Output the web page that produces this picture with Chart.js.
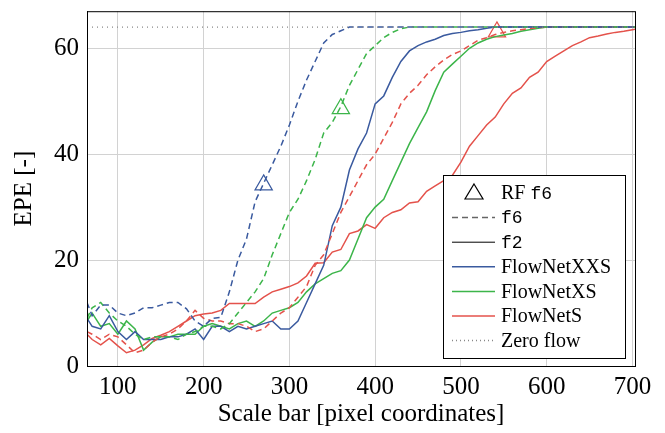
<!DOCTYPE html>
<html>
<head>
<meta charset="utf-8">
<script src="https://cdn.jsdelivr.net/npm/chart.js@4.4.1/dist/chart.umd.min.js"></script>
<style>
  body { margin: 0; background: #fff; }
  .chartBox { width: 665px; height: 433px; }
</style>
</head>
<body>
<div class="chartBox"><canvas id="epeChart"></canvas></div>
<script>
// scale bar size (x) for every sample
const scaleBar = [64, 70, 80, 90, 100, 110, 120, 130, 140, 150, 160, 170, 180, 190, 200,
  210, 220, 230, 240, 250, 260, 270, 280, 290, 300, 310, 320, 330, 340, 350,
  360, 370, 380, 390, 400, 410, 420, 430, 440, 450, 460, 470, 480, 490, 500,
  510, 520, 530, 540, 550, 560, 570, 580, 590, 600, 610, 620, 630, 640, 650,
  660, 670, 680, 690, 700, 703];

// EPE values, f6 = dashed, f2 = solid
const xxsF6 = [12, 9.5, 11.5, 11.5, 10, 9.5, 10, 11, 11, 11.5, 12, 12, 10.8, 8.5, 7.5,
  9, 9.2, 14, 20, 24, 31, 34.5, 38, 41.5, 45.5, 50, 54, 57.5, 61, 62.6,
  63.3, 64, 64, 64, 64, 64, 64, 64, 64, 64, 64, 64, 64, 64, 64,
  64, 64, 64, 64, 64, 64, 64, 64, 64, 64, 64, 64, 64, 64, 64,
  64, 64, 64, 64, 64, 64];
const xsF6 = [9, 11, 12, 10, 8.5, 7.5, 6, 5, 5.5, 5.5, 5.5, 5, 6, 6.5, 7.5,
  7.5, 7, 8, 10, 12, 14, 16.5, 21, 25, 29, 31.5, 35, 39, 44, 46,
  49, 53, 56, 59, 60.5, 62, 63, 63.7, 64, 64, 64, 64, 64, 64, 64,
  64, 64, 64, 64, 64, 64, 64, 64, 64, 64, 64, 64, 64, 64, 64,
  64, 64, 64, 64, 64, 64];
const sF6 = [6.5, 6, 5, 6, 5.5, 4, 2.5, 3, 4.5, 5.5, 6, 7, 8.5, 10.5, 9,
  8.5, 8.5, 8, 8, 7.5, 6.5, 7, 8.5, 10, 11, 13, 15, 19, 21, 25,
  29, 32, 35, 38, 40, 43, 46, 49.5, 51.5, 53, 55, 56.5, 57.8, 58.8, 59.5,
  60.5, 61.5, 62, 62.6, 63, 63.3, 63.5, 63.7, 63.9, 64, 64, 64, 64, 64, 64,
  64, 64, 64, 64, 64, 64];
const xxsF2 = [9, 7.5, 7, 9.5, 6.5, 5, 6.5, 5, 5, 5, 5.5, 5.5, 6, 7, 5,
  7.5, 7.5, 6.5, 7.5, 7, 7.5, 8, 8.5, 7, 7, 8.5, 12, 15.5, 19, 26.5,
  30, 37, 41, 44, 49.5, 51, 54.5, 57.5, 59.5, 60.5, 61.2, 61.7, 62.4, 62.8, 63,
  63.3, 63.5, 63.8, 64, 64, 64, 64, 64, 64, 64, 64, 64, 64, 64, 64,
  64, 64, 64, 64, 64, 64];
const xsF2 = [8.5, 10, 7.5, 8, 6, 8.5, 7, 3, 4.5, 5.5, 5.5, 6, 6, 6, 7.5,
  8, 7.5, 7, 8, 8.5, 7.5, 8.5, 10, 10.5, 11, 12, 14, 15.5, 16.5, 17.5,
  18, 20, 24, 28, 30, 31.5, 35, 38.5, 42, 45, 48, 52, 55.5, 57, 58.5,
  60, 61, 61.7, 62.2, 62.5, 62.8, 63.2, 63.5, 63.8, 64, 64, 64, 64, 64, 64,
  64, 64, 64, 64, 64, 64];
const sF2 = [6, 5, 4, 5.2, 3.8, 2.5, 3, 4, 5.2, 5.8, 6.5, 7.5, 8.5, 9.5, 9.8,
  10, 10.5, 11.8, 11.8, 11.8, 11.8, 13, 14, 14.5, 15, 15.7, 17, 19.4, 19.5, 21.5,
  22, 25, 25.5, 26.7, 26, 28, 29, 29.5, 30.8, 31, 33, 34, 35, 36, 38.5,
  41.5, 43.5, 45.5, 47, 49.5, 51.5, 52.5, 54.5, 55.5, 57.5, 58.5, 59.5, 60.5, 61.2, 62,
  62.3, 62.7, 63, 63.2, 63.5, 63.6];

// RF f6 markers (XXS, XS, S)
const rfX = [270, 360, 542];
const rfY = [34.2, 48.6, 63.1];

// zero flow baseline
const zeroFlowX = [64, 703];
const zeroFlowEPE = 64;

const blue = "#3a5a9f";
const green = "#3cb54a";
const red = "#e4524b";
const serif = "'Liberation Serif', 'DejaVu Serif', serif";
const mono = "'Liberation Mono', 'DejaVu Sans Mono', monospace";

function series(values) {
  return scaleBar.map((x, i) => ({ x, y: values[i] }));
}

function lineSet(label, values, color, dashed) {
  return {
    label,
    data: series(values),
    borderColor: color,
    borderWidth: 1.5,
    borderDash: dashed ? [6, 4] : [],
    pointRadius: 0,
    fill: false,
    tension: 0,
  };
}

// legend box drawn inside the plot, lower right
const legendBox = {
  id: "legendBox",
  afterDraw(chart) {
    const { ctx, chartArea } = chart;
    const w = 182, h = 183;
    const left = chartArea.right - 10 - w;
    const top = chartArea.bottom - 8 - h;
    ctx.save();
    ctx.fillStyle = "#fff";
    ctx.fillRect(left, top, w, h);
    ctx.strokeStyle = "#000";
    ctx.lineWidth = 1;
    ctx.strokeRect(left + 0.5, top + 0.5, w, h);

    const rows = [
      { kind: "tri", text: "RF ", code: "f6" },
      { kind: "line", color: "#666", dash: [6, 4], code: "f6" },
      { kind: "line", color: "#000", dash: [], code: "f2" },
      { kind: "line", color: blue, dash: [], text: "FlowNetXXS" },
      { kind: "line", color: green, dash: [], text: "FlowNetXS" },
      { kind: "line", color: red, dash: [], text: "FlowNetS" },
      { kind: "line", color: "#888", dash: [1, 3], text: "Zero flow" },
    ];
    const x0 = left + 9, x1 = left + 52, tx = left + 58;
    rows.forEach((r, i) => {
      const y = top + 18 + i * 24.6;
      if (r.kind === "tri") {
        ctx.beginPath();
        ctx.moveTo(x0 + 22, y - 9);
        ctx.lineTo(x0 + 31, y + 6);
        ctx.lineTo(x0 + 13, y + 6);
        ctx.closePath();
        ctx.strokeStyle = "#000";
        ctx.lineWidth = 1.2;
        ctx.stroke();
      } else {
        ctx.beginPath();
        ctx.setLineDash(r.dash);
        ctx.strokeStyle = r.color;
        ctx.lineWidth = r.color === "#000" ? 1 : 1.5;
        ctx.moveTo(x0, y);
        ctx.lineTo(x1, y);
        ctx.stroke();
        ctx.setLineDash([]);
      }
      ctx.fillStyle = "#000";
      ctx.textBaseline = "middle";
      let cx = tx;
      if (r.text) {
        ctx.font = "20px " + serif;
        ctx.fillText(r.text, cx, y + 1);
        cx += ctx.measureText(r.text).width;
      }
      if (r.code) {
        ctx.font = "18px " + mono;
        ctx.fillText(r.code, cx, y + 1);
      }
    });
    ctx.restore();
  },
  afterDatasetsDraw(chart) {
    const { ctx, chartArea } = chart;
    ctx.save();
    ctx.strokeStyle = "#000";
    ctx.lineWidth = 1;
    ctx.strokeRect(chartArea.left + 0.5, chartArea.top + 0.5,
      chartArea.right - chartArea.left, chartArea.bottom - chartArea.top);
    ctx.restore();
  },
};

const ctx = document.querySelector("#epeChart");
const epeChart = new Chart(ctx, {
  type: "line",
  data: {
    datasets: [
      {
        label: "Zero flow",
        data: zeroFlowX.map((x) => ({ x, y: zeroFlowEPE })),
        borderColor: "#888",
        borderWidth: 1.3,
        borderDash: [1, 4],
        pointRadius: 0,
      },
      lineSet("FlowNetXXS f6", xxsF6, blue, true),
      lineSet("FlowNetXS f6", xsF6, green, true),
      lineSet("FlowNetS f6", sF6, red, true),
      lineSet("FlowNetXXS f2", xxsF2, blue, false),
      lineSet("FlowNetXS f2", xsF2, green, false),
      lineSet("FlowNetS f2", sF2, red, false),
      {
        type: "scatter",
        label: "RF f6",
        data: rfX.map((x, i) => ({ x, y: rfY[i] })),
        pointStyle: "triangle",
        pointRadius: 10,
        pointBorderWidth: 1.2,
        pointBackgroundColor: "rgba(0,0,0,0)",
        pointBorderColor: [blue, green, red],
        showLine: false,
      },
    ],
  },
  options: {
    responsive: true,
    maintainAspectRatio: false,
    animation: false,
    layout: { padding: { top: 8, right: 30, left: 0, bottom: 0 } },
    plugins: { legend: { display: false }, tooltip: { enabled: false } },
    scales: {
      x: {
        type: "linear",
        min: 64,
        max: 703,
        afterFit: (s) => { s.height = 67; },
        ticks: {
          stepSize: 100,
          includeBounds: false,
          padding: 6,
          color: "#000",
          maxRotation: 0,
          font: { family: serif, size: 25 },
        },
        grid: { color: "#d2d2d2", lineWidth: 1, drawTicks: false },
        border: { color: "#000" },
        title: {
          display: true,
          text: "Scale bar [pixel coordinates]",
          color: "#000",
          font: { family: serif, size: 25 },
          padding: { top: 5 },
        },
      },
      y: {
        min: 0,
        max: 67,
        afterFit: (s) => { s.width = 87; s.paddingTop = 0; s.paddingBottom = 0; },
        ticks: {
          stepSize: 20,
          includeBounds: false,
          padding: 8,
          color: "#000",
          font: { family: serif, size: 25 },
        },
        grid: { color: "#d2d2d2", lineWidth: 1, drawTicks: false },
        border: { color: "#000" },
        title: {
          display: true,
          text: "EPE [-]",
          color: "#000",
          font: { family: serif, size: 25 },
          padding: { top: 9, bottom: 0 },
        },
      },
    },
  },
  plugins: [legendBox],
});
</script>
</body>
</html>
